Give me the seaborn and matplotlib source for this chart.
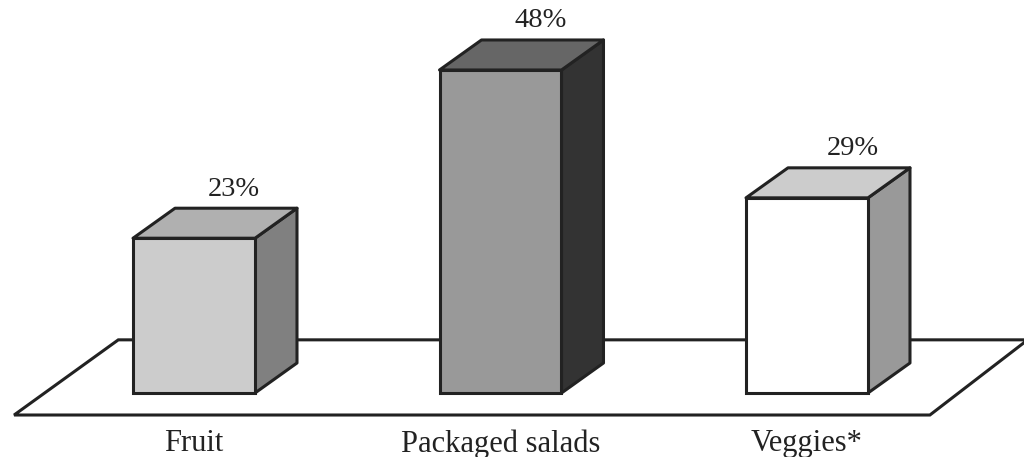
import matplotlib
matplotlib.use("Agg")
import matplotlib.pyplot as plt
from matplotlib.patches import Polygon
import pandas as pd
import seaborn as sns

categories = ["Fruit", "Packaged salads", "Veggies*"]
shares = [23, 48, 29]
front_colors = ["#cccccc", "#999999", "#ffffff"]
side_colors = ["#808080", "#333333", "#999999"]
top_colors = ["#b0b0b0", "#666666", "#cccccc"]

sns.set_theme(style="white")
plt.rcParams["font.family"] = ["Liberation Serif", "DejaVu Serif"]

EDGE = "#222222"
LW = 2.2
BAR_WIDTH = 0.398
DEPTH_X = 0.137   # oblique offset of the back face, category units
DEPTH_Y = 4.46    # oblique offset of the back face, percent units
LABEL_SHIFT = [-0.007, -0.007, 0.014]  # sideways placement of each value label

fig = plt.figure(figsize=(10.24, 4.57), dpi=100)
ax = fig.add_axes([0, 32 / 457, 1, 425 / 457])

df = pd.DataFrame({"category": categories, "share": shares})
sns.barplot(
    data=df, x="category", y="share", hue="category", palette=front_colors,
    order=categories, hue_order=categories, legend=False, width=BAR_WIDTH,
    saturation=1, edgecolor=EDGE, linewidth=LW, ax=ax, zorder=3,
)

ax.set_xlim(-0.633, 2.708)
ax.set_ylim(-4.755, 58.4)

# Oblique floor the columns stand on
floor = Polygon(
    [(-0.587, -3.27), (-0.247, 7.9), (2.72, 7.9), (2.401, -3.27)],
    closed=True, facecolor="white", edgecolor=EDGE, linewidth=LW,
    zorder=1, clip_on=True,
)
ax.add_patch(floor)

# Side and top faces plus the value above each column
for bar, value, side, top, shift in zip(
    ax.patches[:3], shares, side_colors, top_colors, LABEL_SHIFT
):
    x0 = bar.get_x()
    x1 = x0 + bar.get_width()
    h = bar.get_height()
    ax.add_patch(Polygon(
        [(x1, 0), (x1 + DEPTH_X, DEPTH_Y), (x1 + DEPTH_X, h + DEPTH_Y), (x1, h)],
        closed=True, facecolor=side, edgecolor=EDGE, linewidth=LW,
        joinstyle="round", zorder=2.5,
    ))
    ax.add_patch(Polygon(
        [(x0, h), (x0 + DEPTH_X, h + DEPTH_Y), (x1 + DEPTH_X, h + DEPTH_Y), (x1, h)],
        closed=True, facecolor=top, edgecolor=EDGE, linewidth=LW,
        joinstyle="round", zorder=2.5,
    ))
    ax.text(
        (x0 + x1) / 2 + DEPTH_X + shift, h + DEPTH_Y + 2.85, f"{value}%",
        ha="center", va="center", fontsize=20.5, color="#222222",
    )

ax.set_xlabel("")
ax.set_ylabel("")
ax.set_yticks([])
ax.set_xticks(range(len(categories)))
ax.set_xticklabels(categories, fontsize=22, color="#222222")
ax.tick_params(axis="x", length=0, pad=3)
sns.despine(ax=ax, left=True, bottom=True)
ax.patch.set_alpha(0)

fig.savefig("out.png", dpi=100, facecolor="white")
